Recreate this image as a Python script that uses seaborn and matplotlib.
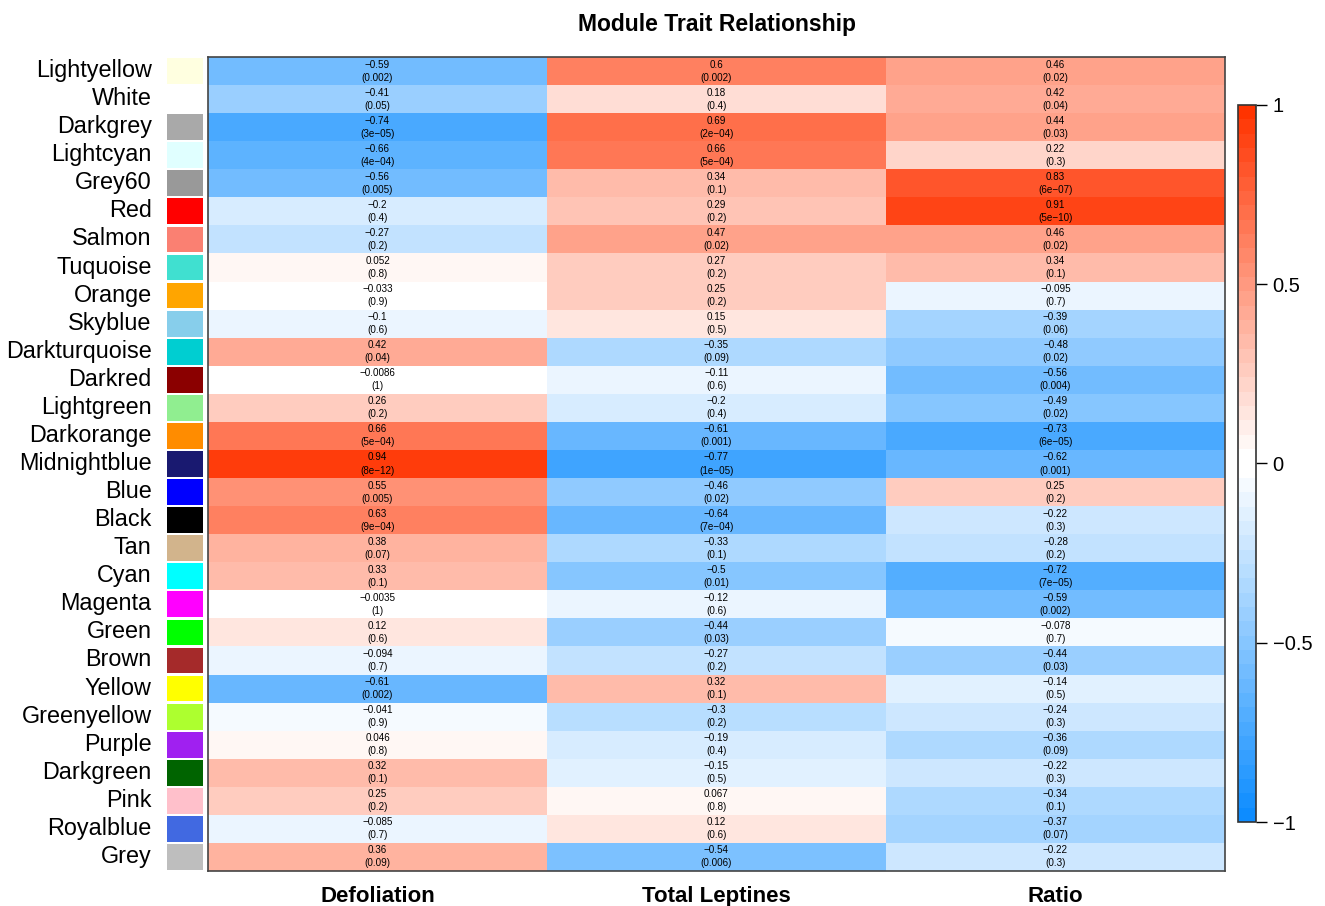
import numpy as np
import pandas as pd
import matplotlib
matplotlib.use("Agg")
import matplotlib.pyplot as plt
import matplotlib.transforms as mtransforms
from matplotlib.colors import ListedColormap
import seaborn as sns

modules = ["Lightyellow", "White", "Darkgrey", "Lightcyan", "Grey60", "Red", "Salmon",
           "Tuquoise", "Orange", "Skyblue", "Darkturquoise", "Darkred", "Lightgreen",
           "Darkorange", "Midnightblue", "Blue", "Black", "Tan", "Cyan", "Magenta",
           "Green", "Brown", "Yellow", "Greenyellow", "Purple", "Darkgreen", "Pink",
           "Royalblue", "Grey"]
module_colors = ["#FFFFE0", "#FFFFFF", "#A9A9A9", "#E0FFFF", "#999999", "#FF0000", "#FA8072",
                 "#40E0D0", "#FFA500", "#87CEEB", "#00CED1", "#8B0000", "#90EE90",
                 "#FF8C00", "#191970", "#0000FF", "#000000", "#D2B48C", "#00FFFF", "#FF00FF",
                 "#00FF00", "#A52A2A", "#FFFF00", "#ADFF2F", "#A020F0", "#006400", "#FFC0CB",
                 "#4169E1", "#BEBEBE"]
traits = ["Defoliation", "Total Leptines", "Ratio"]

defoliation_r = [-0.59, -0.41, -0.74, -0.66, -0.56, -0.2, -0.27, 0.052, -0.033, -0.1, 0.42,
                 -0.0086, 0.26, 0.66, 0.94, 0.55, 0.63, 0.38, 0.33, -0.0035, 0.12, -0.094,
                 -0.61, -0.041, 0.046, 0.32, 0.25, -0.085, 0.36]
defoliation_p = ["0.002", "0.05", "3e-05", "4e-04", "0.005", "0.4", "0.2", "0.8", "0.9", "0.6",
                 "0.04", "1", "0.2", "5e-04", "8e-12", "0.005", "9e-04", "0.07", "0.1", "1",
                 "0.6", "0.7", "0.002", "0.9", "0.8", "0.1", "0.2", "0.7", "0.09"]
leptines_r = [0.6, 0.18, 0.69, 0.66, 0.34, 0.29, 0.47, 0.27, 0.25, 0.15, -0.35, -0.11, -0.2,
              -0.61, -0.77, -0.46, -0.64, -0.33, -0.5, -0.12, -0.44, -0.27, 0.32, -0.3, -0.19,
              -0.15, 0.067, 0.12, -0.54]
leptines_p = ["0.002", "0.4", "2e-04", "5e-04", "0.1", "0.2", "0.02", "0.2", "0.2", "0.5",
              "0.09", "0.6", "0.4", "0.001", "1e-05", "0.02", "7e-04", "0.1", "0.01", "0.6",
              "0.03", "0.2", "0.1", "0.2", "0.4", "0.5", "0.8", "0.6", "0.006"]
ratio_r = [0.46, 0.42, 0.44, 0.22, 0.83, 0.91, 0.46, 0.34, -0.095, -0.39, -0.48, -0.56, -0.49,
           -0.73, -0.62, 0.25, -0.22, -0.28, -0.72, -0.59, -0.078, -0.44, -0.14, -0.24, -0.36,
           -0.22, -0.34, -0.37, -0.22]
ratio_p = ["0.02", "0.04", "0.03", "0.3", "6e-07", "5e-10", "0.02", "0.1", "0.7", "0.06",
           "0.02", "0.004", "0.02", "6e-05", "0.001", "0.2", "0.3", "0.2", "7e-05", "0.002",
           "0.7", "0.03", "0.5", "0.3", "0.09", "0.3", "0.1", "0.07", "0.3"]

cor = pd.DataFrame({traits[0]: defoliation_r, traits[1]: leptines_r, traits[2]: ratio_r},
                   index=modules)
pvals = pd.DataFrame({traits[0]: defoliation_p, traits[1]: leptines_p, traits[2]: ratio_p},
                     index=modules)


def fmt_num(v):
    return f"{v:g}".replace("-", "\u2212")


labels = np.empty(cor.shape, dtype=object)
for i in range(cor.shape[0]):
    for j in range(cor.shape[1]):
        labels[i, j] = f"{fmt_num(cor.iat[i, j])}\n({pvals.iat[i, j].replace('-', '\u2212')})"

# blue - white - red palette in 50 discrete steps
blue_end = np.array([0.05, 0.55, 1.0])
red_end = np.array([1.0, 0.2, 0.0])
white = np.ones(3)
n_half = 25
steps = []
for t in np.linspace(1, 0, n_half):
    steps.append(white + (blue_end - white) * t)
for t in np.linspace(0, 1, n_half):
    steps.append(white + (red_end - white) * t)
cmap = ListedColormap(steps)

plt.rcParams["font.family"] = ["Liberation Sans", "DejaVu Sans"]
fig = plt.figure(figsize=(13.25, 9.06), dpi=100)

ax = fig.add_axes([208 / 1325, 1 - 871 / 906, (1225 - 208) / 1325, (871 - 57) / 906])
cax = fig.add_axes([1238 / 1325, 1 - 822 / 906, 18 / 1325, (822 - 105) / 906])
sax = fig.add_axes([167 / 1325, 1 - 871 / 906, 36 / 1325, (871 - 57) / 906])

sns.heatmap(cor, ax=ax, cmap=cmap, vmin=-1, vmax=1, annot=labels, fmt="",
            annot_kws={"fontsize": 7.1, "color": "black", "linespacing": 1.38},
            cbar_ax=cax, cbar_kws={"ticks": [-1, -0.5, 0, 0.5, 1]})

ax.set_yticks([])
ax.set_ylabel("")
ax.set_xlabel("")
ax.tick_params(axis="x", length=0, pad=11)
ax.set_xticklabels(traits, fontsize=16, fontweight="bold")
for side in ax.spines.values():
    side.set_visible(True)
    side.set_color("#444444")
    side.set_linewidth(1.2)
ax.set_title("Module Trait Relationship", fontsize=16.5, fontweight="bold", pad=19)

# module colour swatches with their names
ypos = np.arange(len(modules)) + 0.5
sax.barh(ypos, [1] * len(modules), height=0.92, color=module_colors, left=0)
sax.set_xlim(0, 1)
sax.set_ylim(len(modules), 0)
sax.set_xticks([])
sax.set_yticks(ypos)
sax.set_yticklabels(modules, fontsize=16.8)
sax.tick_params(axis="y", length=0, pad=11)
lift = mtransforms.ScaledTranslation(0, 3 / 100, fig.dpi_scale_trans)
for lbl in sax.get_yticklabels():
    lbl.set_transform(lbl.get_transform() + lift)
for side in sax.spines.values():
    side.set_visible(False)

cb = ax.collections[0].colorbar
cb.ax.set_yticklabels(["\u22121", "\u22120.5", "0", "0.5", "1"], fontsize=14.5)
cb.ax.tick_params(length=8, width=1, pad=4)
cb.outline.set_edgecolor("#333333")
cb.outline.set_linewidth(1.2)

fig.savefig("out.png", dpi=100, facecolor="white")
